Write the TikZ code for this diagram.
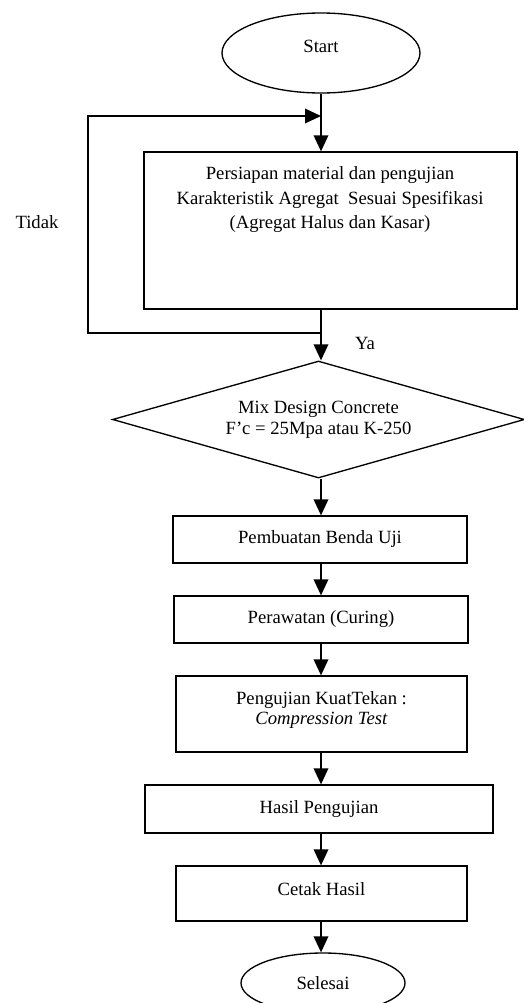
\documentclass[tikz,border=0pt]{standalone}
\usepackage{fontspec}
\setmainfont{Liberation Serif}
\usetikzlibrary{shapes.geometric,arrows.meta}
\begin{document}
\begin{tikzpicture}[x=0.75pt,y=-0.75pt,
  every node/.style={font=\fontsize{14}{15.5}\selectfont, inner sep=0pt},
  boxnode/.style={draw, line width=1pt, rectangle},
  oval/.style={draw, line width=1pt, ellipse},
  decision/.style={draw, line width=1pt, diamond, aspect=3.5},
  txt/.style={align=center},
  flow/.style={line width=1pt, -{Triangle[length=12pt,width=11pt]}}
]
\useasboundingbox (0,0) rectangle (524,1003);

% shapes
\node[oval, minimum width=148.5pt, minimum height=60pt] (start) at (321,53) {};
\node[txt] (starttxt) at (321,46) {Start};

\node[boxnode, minimum width=279.75pt, minimum height=117.75pt] (b1) at (330.5,230.5) {};
\node[txt, font=\fontsize{14}{18.4}\selectfont] (b1txt) at (330,200) {Persiapan material dan pengujian\\Karakteristik Agregat~ Sesuai Spesifikasi\\(Agregat Halus dan Kasar)};

\node[decision, minimum width=309pt, minimum height=87.75pt, align=center] (d) at (318.5,419.5) {Mix Design Concrete\\F’c = 25Mpa atau K-250};

\node[boxnode, minimum width=220.5pt, minimum height=35.25pt] (b2) at (320,539.5) {Pembuatan Benda Uji};
\node[boxnode, minimum width=220.5pt, minimum height=35.25pt] (b3) at (321,619.5) {Perawatan (Curing)};

\node[boxnode, minimum width=218.25pt, minimum height=57pt] (b4) at (321.5,714) {};
\node[txt] (b4txt) at (321.5,710) {Pengujian KuatTekan :\\\textit{Compression Test}};

\node[boxnode, minimum width=261pt, minimum height=36pt] (b5) at (319,809) {Hasil Pengujian};

\node[boxnode, minimum width=218.25pt, minimum height=41.25pt] (b6) at (321.5,893.5) {};
\node[txt] (b6txt) at (321.5,889) {Cetak Hasil};

\node[oval, minimum width=123pt, minimum height=45pt] (stop) at (323,983) {Selesai};

% labels
\node (ya) at (365,343) {Ya};
\node (tidak) at (37,222) {Tidak};

% connectors
\coordinate (col) at (321,0);
\draw[flow] (start.south -| col) -- (col |- b1.north);
\draw[flow] (col |- b1.south) -- (col |- d.north);
\draw[flow] (col |- d.south) -- (col |- b2.north);
\draw[flow] (col |- b2.south) -- (col |- b3.north);
\draw[flow] (col |- b3.south) -- (col |- b4.north);
\draw[flow] (col |- b4.south) -- (col |- b5.north);
\draw[flow] (col |- b5.south) -- (col |- b6.north);
\draw[flow] (col |- b6.south) -- (col |- stop.north);

% loop back (Tidak)
\coordinate (jb) at (321,333);
\coordinate (lb) at (88,333);
\coordinate (lt) at (88,116);
\coordinate (jt) at (321,116);
\draw[flow] (jb) -- (lb) -- (lt) -- (jt);
\end{tikzpicture}
\end{document}
